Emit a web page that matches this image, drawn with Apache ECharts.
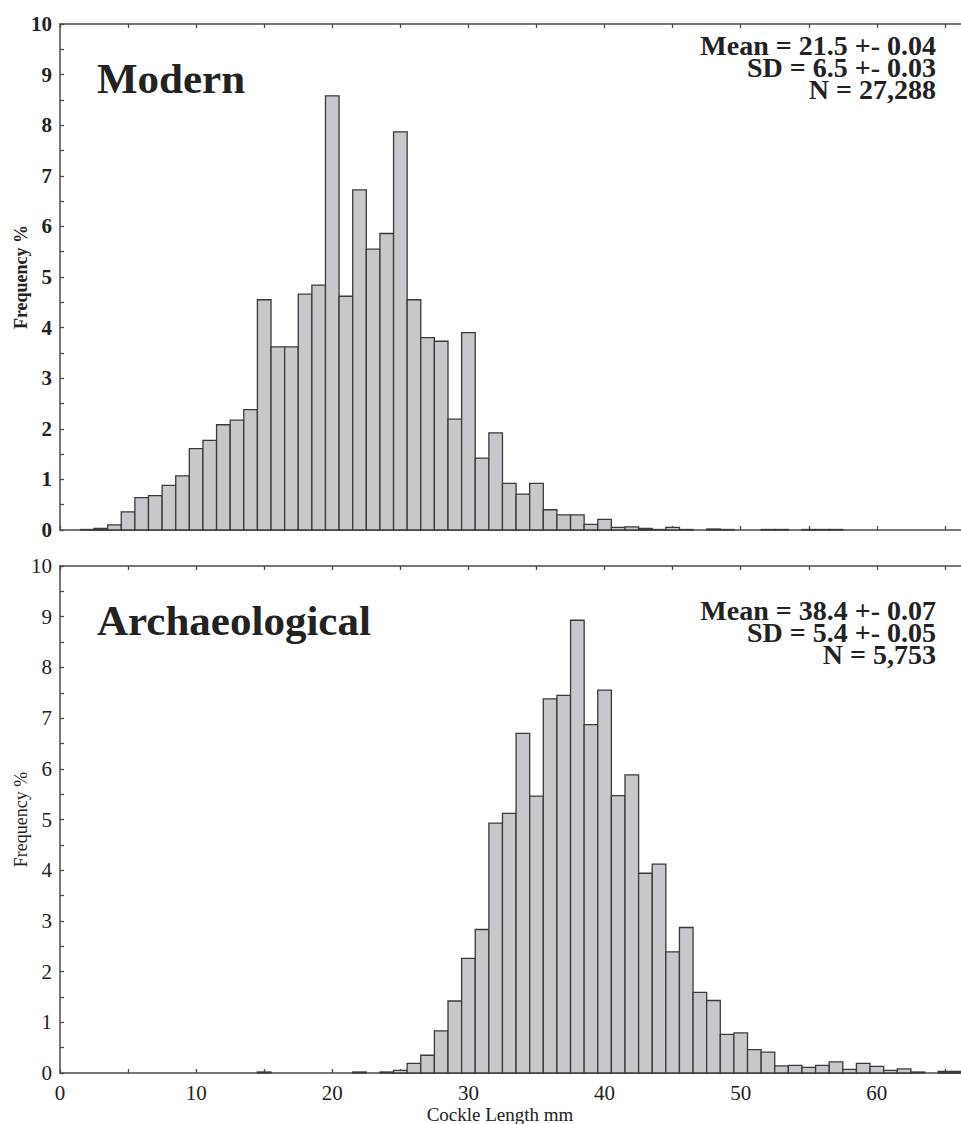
<!DOCTYPE html>
<html>
<head>
<meta charset="utf-8">
<script src="https://cdn.jsdelivr.net/npm/echarts@6/dist/echarts.min.js"></script>
<style>
  html, body { margin: 0; padding: 0; background: #fff; }
  #chart { width: 961px; height: 1124px; }
</style>
</head>
<body>
<div id="chart"></div>
<script>
// bin centres (mm) and frequency %
const modernLengths = [2, 3, 4, 5, 6, 7, 8, 9, 10, 11, 12, 13, 14, 15, 16, 17, 18, 19, 20, 21, 22, 23, 24, 25, 26, 27, 28, 29, 30,
  31, 32, 33, 34, 35, 36, 37, 38, 39, 40, 41, 42, 43, 44, 45, 46, 48, 49, 52, 53, 55, 56, 57];
const modernFreq = [0.01, 0.03, 0.1, 0.36, 0.64, 0.68, 0.88, 1.07, 1.61, 1.77, 2.08, 2.17, 2.38, 4.55, 3.62, 3.62, 4.66, 4.84, 8.58, 4.62, 6.72, 5.55, 5.86, 7.87, 4.55, 3.8, 3.73, 2.19, 3.9,
  1.42, 1.92, 0.92, 0.71, 0.92, 0.4, 0.3, 0.3, 0.11, 0.21, 0.05, 0.06, 0.03, 0.01, 0.05, 0.01, 0.02, 0.01, 0.01, 0.01, 0.01, 0.01, 0.01];

const archLengths = [15, 22, 24, 25, 26, 27, 28, 29, 30, 31, 32, 33, 34, 35, 36, 37, 38, 39, 40, 41, 42, 43, 44, 45, 46, 47, 48, 49, 50,
  51, 52, 53, 54, 55, 56, 57, 58, 59, 60, 61, 62, 63, 65, 66];
const archFreq = [0.02, 0.02, 0.02, 0.05, 0.19, 0.35, 0.83, 1.42, 2.26, 2.83, 4.93, 5.12, 6.7, 5.46, 7.38, 7.45, 8.93, 6.87, 7.55, 5.47, 5.88, 3.94, 4.12, 2.39, 2.87, 1.59, 1.43, 0.76, 0.79,
  0.46, 0.41, 0.14, 0.15, 0.11, 0.15, 0.22, 0.07, 0.19, 0.13, 0.05, 0.08, 0.02, 0.03, 0.03];

const modernStats = ['Mean = 21.5 +- 0.04', 'SD = 6.5 +- 0.03', 'N = 27,288'];
const archStats = ['Mean = 38.4 +- 0.07', 'SD = 5.4 +- 0.05', 'N = 5,753'];

const serif = '"Liberation Serif", "DejaVu Serif", serif';
const axisColor = '#4a4a4a';

const chart = echarts.init(document.getElementById('chart'), null, { renderer: 'svg' });

function renderBar(params, api) {
  const c = api.value(0), v = api.value(1);
  if (!v) return null;
  const p0 = api.coord([c - 0.5, 0]);
  const p1 = api.coord([c + 0.5, v]);
  return {
    type: 'rect',
    shape: { x: p0[0], y: p1[1], width: p1[0] - p0[0], height: p0[1] - p1[1] },
    style: { fill: '#c7c8cb', stroke: '#3a3a3a', lineWidth: 1.3 }
  };
}

function xAx(gridIndex, position, labels) {
  return {
    type: 'value', gridIndex: gridIndex, position: position,
    min: 0, max: 70, interval: 10,
    axisLine: { show: true, lineStyle: { color: axisColor, width: 1.5 } },
    axisTick: { show: true, inside: true, length: 4, lineStyle: { color: axisColor, width: 1.3 } },
    minorTick: { show: true, splitNumber: 2, length: 4, lineStyle: { color: axisColor, width: 1.3 } },
    splitLine: { show: false },
    axisLabel: { show: labels, showMaxLabel: false, color: '#222', fontFamily: serif, fontSize: 21, margin: 9 }
  };
}

function yAx(gridIndex, bold) {
  return {
    type: 'value', gridIndex: gridIndex,
    min: 0, max: 10, interval: 1,
    name: 'Frequency %', nameLocation: 'middle', nameGap: 30, nameMoveOverlap: false,
    nameTextStyle: { fontFamily: serif, fontSize: 18, fontWeight: bold ? 'bold' : 'normal', color: '#222' },
    axisLine: { show: true, lineStyle: { color: axisColor, width: 1.5 } },
    axisTick: { show: true, inside: true, length: 4, lineStyle: { color: axisColor, width: 1.3 } },
    minorTick: { show: true, splitNumber: 2, length: 4, lineStyle: { color: axisColor, width: 1.3 } },
    splitLine: { show: false },
    axisLabel: { color: '#222', fontFamily: serif, fontSize: 21, fontWeight: bold ? 'bold' : 'normal', margin: 8 }
  };
}

function statText(lines, top) {
  return {
    type: 'text', x: 936, y: top,
    style: { text: lines.join('\n'), font: 'bold 28px ' + serif, lineHeight: 22, fill: '#222', align: 'right', verticalAlign: 'top' }
  };
}

const option = {
  animation: false,
  backgroundColor: '#fff',
  grid: [
    { left: 60, top: 24, width: 953, height: 506, outerBoundsMode: 'none', containLabel: false },
    { left: 60, top: 566, width: 953, height: 507, outerBoundsMode: 'none', containLabel: false }
  ],
  xAxis: [xAx(0, 'bottom', false), xAx(0, 'top', false), xAx(1, 'bottom', true), xAx(1, 'top', false)],
  yAxis: [yAx(0, true), yAx(1, false)],
  series: [
    { type: 'custom', xAxisIndex: 0, yAxisIndex: 0, renderItem: renderBar,
      data: modernLengths.map((c, i) => [c, modernFreq[i]]) },
    { type: 'custom', xAxisIndex: 2, yAxisIndex: 1, renderItem: renderBar,
      data: archLengths.map((c, i) => [c, archFreq[i]]) }
  ],
  graphic: [
    { type: 'text', x: 97, y: 78, style: { text: 'Modern', font: 'bold 43px ' + serif, fill: '#222', verticalAlign: 'middle' } },
    { type: 'text', x: 97, y: 620, style: { text: 'Archaeological', font: 'bold 43px ' + serif, fill: '#222', verticalAlign: 'middle' } },
    { type: 'text', x: 500, y: 1114, style: { text: 'Cockle Length mm', font: '19px ' + serif, fill: '#222', align: 'center', verticalAlign: 'middle' } },
    statText(modernStats, 34),
    statText(archStats, 599)
  ]
};

chart.setOption(option);
</script>
</body>
</html>
